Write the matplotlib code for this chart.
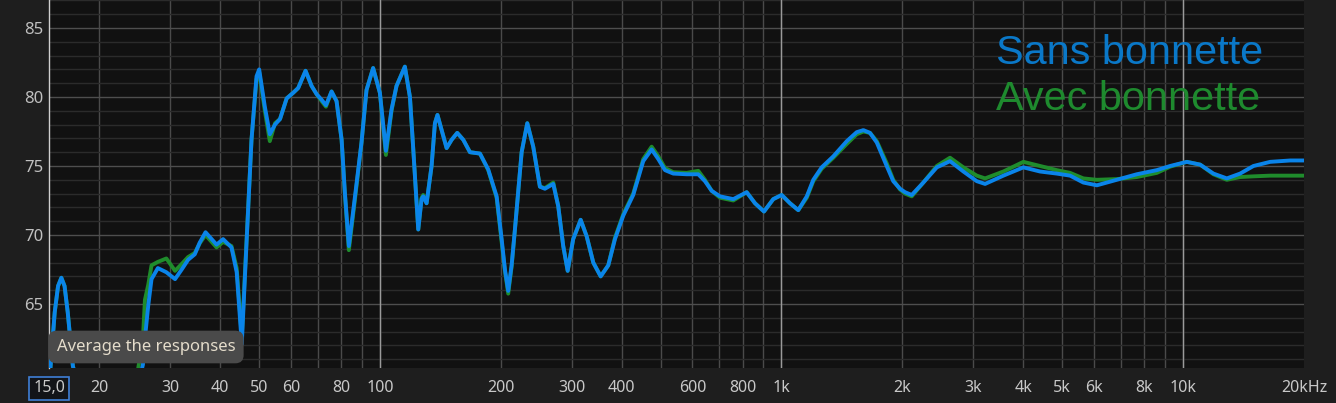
import matplotlib
matplotlib.use("Agg")
import matplotlib.pyplot as plt

# frequency response, values
freq = [15.0, 15.5, 15.8, 16.1, 16.4, 16.7, 17.2, 18.5, 24.0, 25.7,
        26.0, 26.5, 27.0, 28.0, 29.4, 30.9, 32.1, 33.3, 34.6, 35.6,
        36.8, 38.1, 39.2, 40.7, 42.7, 44.0, 44.6, 45.3, 46.6, 47.9,
        49.3, 50.05, 51.7, 53.2, 54.8, 56.4, 58.6, 60.8, 62.6, 65.3,
        67.6, 69.6, 71.6, 73.4, 75.8, 78.0, 80.3, 81.8, 83.7, 86.7,
        90.0, 92.6, 96.2, 100, 103.5, 106.9, 110, 115.4, 118.8, 121.1,
        124.6, 127.0, 128.2, 130.7, 134.5, 137.1, 139.1, 142.5, 146.6, 150.9,
        155.8, 161.3, 167.6, 177.5, 186.1, 195.3, 201, 204.8, 208.7, 212.8,
        216.9, 225.4, 232.8, 240.9, 250.3, 257.6, 270.2, 278, 286.1, 293.5,
        302.9, 316.2, 327.3, 339.9, 354.6, 370.4, 384.9, 403.6, 427.4, 452.6,
        475, 493.4, 512.7, 537.7, 580.5, 620.5, 644.8, 670.1, 702.8, 758.5,
        819.1, 859.1, 904.5, 954, 1001, 1050, 1101, 1156, 1200, 1259,
        1346, 1454, 1539, 1599, 1661, 1727, 1828, 1898, 1973, 2031,
        2110, 2255, 2436, 2628, 2837, 3064, 3213, 3568, 4002, 4404,
        4847, 5232, 5645, 6098, 6837, 7668, 8600, 9283, 10215, 11025,
        11898, 12849, 13868, 14968, 16475, 18476, 20000]

sans_bonnette = [59.0, 64.4, 66.3, 66.9, 66.3, 64.4, 60.5, 57.0, 57.0, 60.6,
                 62.5, 64.9, 66.8, 67.6, 67.3, 66.8, 67.5, 68.2, 68.6, 69.45,
                 70.2, 69.7, 69.3, 69.7, 69.1, 67.3, 64.9, 62.1, 69.7, 76.9,
                 81.5, 82.0, 79.3, 77.3, 78.0, 78.4, 79.9, 80.3, 80.65, 81.9,
                 80.8, 80.2, 79.8, 79.4, 80.4, 79.7, 76.9, 73.1, 69.2, 72.8,
                 76.7, 80.5, 82.1, 80.3, 76.1, 79.1, 80.8, 82.2, 80.0, 76.2,
                 70.4, 72.6, 72.8, 72.3, 75.0, 78.1, 78.7, 77.6, 76.3, 76.9,
                 77.4, 76.9, 76.0, 75.9, 74.75, 72.8, 69.7, 67.5, 65.95, 67.8,
                 70.4, 76.0, 78.1, 76.4, 73.5, 73.35, 73.7, 72.1, 69.2, 67.4,
                 69.7, 71.1, 69.9, 68.0, 67.0, 67.8, 69.7, 71.4, 72.9, 75.35,
                 76.2, 75.5, 74.7, 74.45, 74.4, 74.4, 73.9, 73.2, 72.8, 72.6,
                 73.1, 72.3, 71.7, 72.6, 72.9, 72.3, 71.8, 72.8, 74.0, 74.9,
                 75.7, 76.8, 77.45, 77.6, 77.4, 76.7, 75.0, 73.9, 73.35, 73.1,
                 72.9, 73.8, 74.9, 75.35, 74.6, 73.9, 73.7, 74.3, 74.9, 74.6,
                 74.45, 74.3, 73.8, 73.6, 74.0, 74.4, 74.7, 75.0, 75.3, 75.1,
                 74.45, 74.1, 74.45, 75.0, 75.3, 75.4, 75.4]

avec_bonnette = [59.0, 64.4, 66.3, 66.9, 66.3, 64.4, 60.5, 57.0, 57.0, 62.5,
                 65.3, 66.4, 67.8, 68.05, 68.3, 67.4, 67.9, 68.4, 68.7, 69.4,
                 70.0, 69.5, 69.1, 69.5, 69.2, 67.6, 65.3, 62.6, 69.9, 76.9,
                 81.3, 81.8, 79.0, 76.8, 78.1, 78.4, 79.9, 80.3, 80.65, 81.9,
                 80.8, 80.2, 79.7, 79.3, 80.4, 79.7, 76.9, 73.0, 68.9, 72.6,
                 76.7, 80.5, 82.1, 80.3, 75.8, 79.0, 80.8, 82.2, 80.0, 76.2,
                 70.4, 72.7, 72.9, 72.3, 75.0, 78.1, 78.7, 77.6, 76.3, 76.9,
                 77.4, 76.9, 76.0, 75.9, 74.7, 72.7, 69.5, 67.4, 65.75, 67.7,
                 70.4, 76.0, 78.1, 76.4, 73.5, 73.4, 73.8, 72.1, 69.2, 67.4,
                 69.7, 71.1, 69.9, 68.0, 67.0, 67.8, 69.8, 71.5, 73.0, 75.5,
                 76.4, 75.7, 74.85, 74.55, 74.5, 74.65, 74.0, 73.2, 72.7, 72.5,
                 73.1, 72.3, 71.7, 72.6, 72.9, 72.3, 71.8, 72.7, 73.9, 74.8,
                 75.6, 76.6, 77.3, 77.5, 77.4, 76.8, 75.2, 74.0, 73.3, 73.0,
                 72.8, 73.8, 75.0, 75.6, 74.9, 74.3, 74.1, 74.6, 75.3, 75.0,
                 74.7, 74.5, 74.1, 74.0, 74.05, 74.2, 74.5, 74.95, 75.3, 75.1,
                 74.4, 74.0, 74.2, 74.25, 74.3, 74.3, 74.3]

x_ticks = [15, 20, 30, 40, 50, 60, 80, 100, 200, 300, 400, 600, 800, 1000,
           2000, 3000, 4000, 5000, 6000, 8000, 10000, 20000]
x_labels = ["15,0", "20", "30", "40", "50", "60", "80", "100", "200", "300",
            "400", "600", "800", "1k", "2k", "3k", "4k", "5k", "6k", "8k",
            "10k", "20kHz"]
x_minor = [70, 90, 500, 700, 900, 7000, 9000]
decades = [100, 1000, 10000]
y_ticks = [65, 70, 75, 80, 85]

W, H = 1336, 403
fig = plt.figure(figsize=(W / 100, H / 100), dpi=100, facecolor="#1e1e1e")
ax = fig.add_axes([49 / W, 1 - 368 / H, (1304 - 49) / W, 368 / H])
ax.set_facecolor("#111111")

ax.set_xscale("log")
ax.set_xlim(15, 20000)
ax.set_ylim(60.36, 87.03)

ax.set_xticks(x_ticks)
ax.set_xticklabels(x_labels)
ax.set_xticks(x_minor, minor=True)
ax.set_xticklabels([""] * len(x_minor), minor=True)
ax.set_yticks(y_ticks)
ax.set_yticks(range(61, 88), minor=True)
ax.yaxis.set_minor_formatter(plt.NullFormatter())

ax.tick_params(which="both", length=0)
ax.tick_params(axis="x", pad=9, labelsize=11.5, labelcolor="#c8c8c8")
ax.tick_params(axis="y", pad=4, labelsize=12, labelcolor="#c0c0c0")
for lab in ax.get_xticklabels() + ax.get_yticklabels():
    lab.set_family(["Noto Sans", "DejaVu Sans"])

ax.grid(axis="x", which="both", color="#4a4a4a", lw=1)
ax.grid(axis="y", which="major", color="#4e4e4e", lw=1)
ax.grid(axis="y", which="minor", color="#2b2b2b", lw=1)
gl = ax.xaxis.get_gridlines()
gl[0].set_visible(False)
gl[-1].set_visible(False)
for d in decades:
    ax.axvline(d, color="#9a9a9a", lw=1, zorder=1.5)

for s in ["top", "right", "bottom"]:
    ax.spines[s].set_visible(False)
ax.spines["left"].set_color("#cfcfcf")
ax.spines["left"].set_linewidth(1)

ax.set_axisbelow(True)
ax.plot(freq, avec_bonnette, color="#1f8c2c", lw=2.8, solid_joinstyle="round",
        solid_capstyle="round", zorder=3)
ax.plot(freq, sans_bonnette, color="#0a84ea", lw=2.8, solid_joinstyle="round",
        solid_capstyle="round", zorder=4)

# boxed start-frequency label
first = ax.get_xticklabels()[0]
first.set_bbox(dict(boxstyle="square,pad=0.25", fc="#121418", ec="#3f7fd6", lw=1.2))

# legend as coloured text
fig.text(996 / W, 1 - 63.5 / H, "Sans bonnette", color="#0a78c8", fontsize=29.8,
         family="Liberation Sans", va="baseline", ha="left")
fig.text(996 / W, 1 - 109.5 / H, "Avec bonnette", color="#1e8a2e", fontsize=29.8,
         family="Liberation Sans", va="baseline", ha="left")

# tooltip
fig.text(146 / W, 1 - 347 / H, "Average the responses", color="#e4dccb", fontsize=12,
         family=["Noto Sans", "DejaVu Sans"], ha="center", va="center",
         bbox=dict(boxstyle="round,pad=0.5,rounding_size=0.5", fc="#4a4a4a", ec="none"),
         zorder=10)

fig.savefig("out.png", dpi=100, facecolor=fig.get_facecolor())
